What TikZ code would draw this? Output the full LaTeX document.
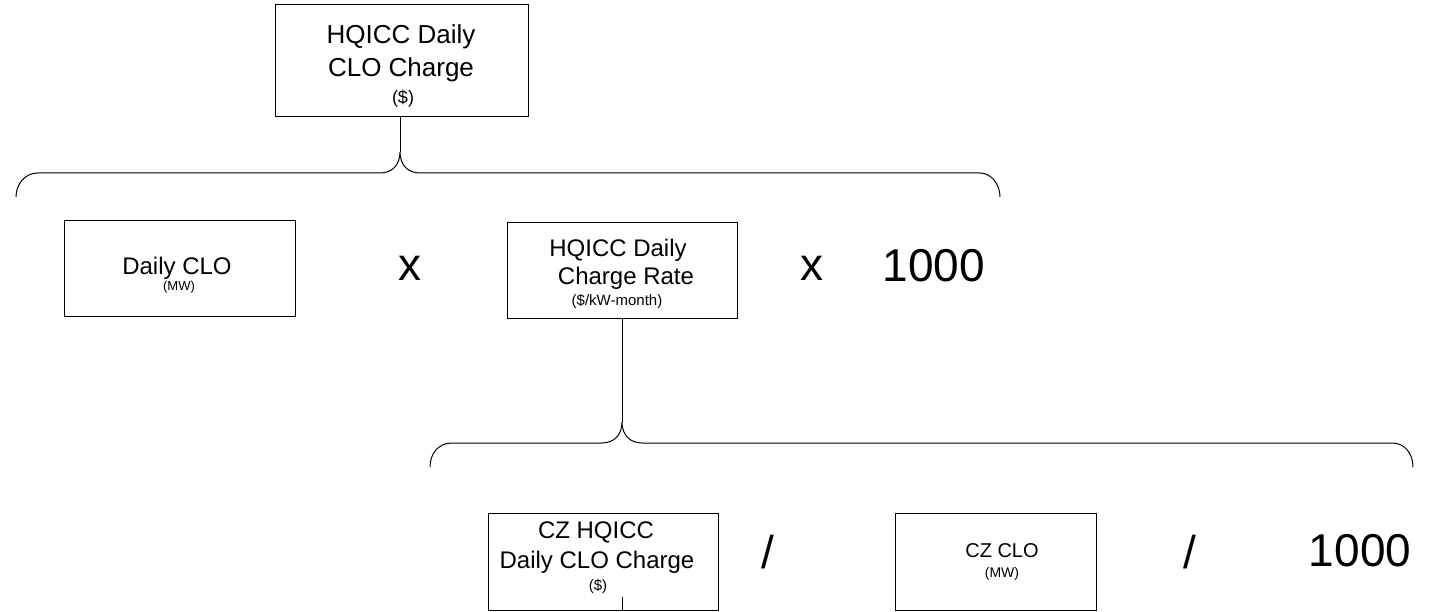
\documentclass[tikz,border=0pt]{standalone}
\usepackage{fontspec}
\setmainfont{Liberation Sans}
\begin{document}
\begin{tikzpicture}[x=1pt,y=-1pt,line width=1pt,
  box/.style={draw,inner sep=0pt,minimum width=#1},
  mainline/.style={anchor=base,inner sep=0pt,font=\fontsize{24}{28}\selectfont},
  topline/.style={anchor=base,inner sep=0pt,font=\fontsize{26}{30}\selectfont},
  smallline/.style={anchor=base,inner sep=0pt,font=\fontsize{15}{18}\selectfont},
  bigop/.style={anchor=center,inner sep=0pt,font=\fontsize{46}{50}\selectfont}]
\useasboundingbox (0,0) rectangle (1435,612);
% boxes
\node[box=253pt,minimum height=112pt] (top) at (401.5,61) {};
\node[box=231pt,minimum height=96pt] (dclo) at (179.5,269) {};
\node[box=230pt,minimum height=96pt] (rate) at (622,271) {};
\node[box=230pt,minimum height=97pt] (czc) at (603,561.5) {};
\node[box=201pt,minimum height=97pt] (czclo) at (996,561.5) {};
% texts
\node[topline] (t1) at (401,44) {HQICC Daily};
\node[topline] (t2) at (401,77) {CLO Charge};
\node[anchor=base,inner sep=0pt,font=\fontsize{18}{20}\selectfont] (t3) at (403,104) {(\$)};
\node[mainline] (d1) at (177,275) {Daily CLO};
\node[smallline,font=\fontsize{13}{16}\selectfont] (d2) at (179,291) {(MW)};
\node[mainline] (r1) at (618,257) {HQICC Daily};
\node[mainline] (r2) at (626,285) {Charge Rate};
\node[smallline] (r3) at (617,306) {(\$/kW-month)};
\node[mainline] (c1) at (596,538) {CZ HQICC};
\node[mainline] (c2) at (597,568) {Daily CLO Charge};
\node[smallline] (c3) at (598,590) {(\$)};
\node[anchor=base,inner sep=0pt,font=\fontsize{20}{24}\selectfont] (z1) at (1002,557) {CZ CLO};
\node[smallline,font=\fontsize{14}{16}\selectfont] (z2) at (1002,577) {(MW)};
% operators
\node[bigop] (x1) at (410,268) {x};
\node[bigop] (x2) at (812,268) {x};
\node[bigop] (n1) at (934,266) {1000};
\node[bigop] (s1) at (768,552) {/};
\node[bigop] (s2) at (1190,552) {/};
\node[bigop] (n2) at (1360,551) {1000};
% brace 1
\coordinate (tip1) at (400,152);
\coordinate (b1l) at (16,197);
\coordinate (b1r) at (1000,197);
\draw (top.south -| tip1) -- (tip1);
\draw (b1l) .. controls (16,184) and (25,173) .. (38,173) -- (380,173)
  .. controls (392,173) and (400,165) .. (tip1)
  .. controls (400,165) and (408,173) .. (420,173) -- (980,173)
  .. controls (991,173) and (1000,184) .. (b1r);
% brace 2
\coordinate (tip2) at (622,422);
\coordinate (b2l) at (430,467);
\coordinate (b2r) at (1413,467);
\draw (rate.south -| tip2) -- (tip2);
\draw (b2l) .. controls (430,454) and (438,443) .. (452,443) -- (602,443)
  .. controls (614,443) and (622,435) .. (tip2)
  .. controls (622,435) and (630,443) .. (642,443) -- (1392,443)
  .. controls (1405,443) and (1413,454) .. (b2r);
% small tick in bottom box
\coordinate (tick) at (622,597);
\draw (tick) -- (czc.south -| tick);
\end{tikzpicture}
\end{document}
